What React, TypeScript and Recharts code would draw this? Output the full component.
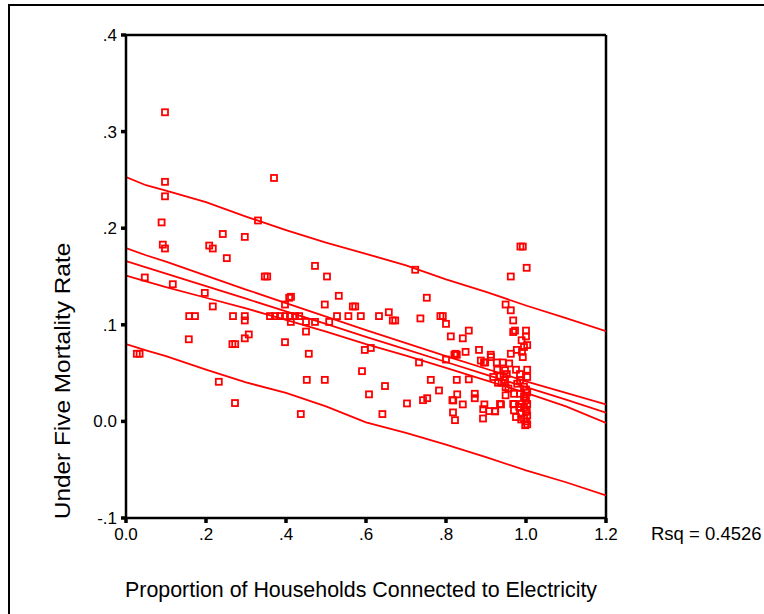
import React from 'react';
import { ComposedChart, Scatter, Line, XAxis, YAxis, ReferenceLine } from 'recharts';

// tick values and their printed labels (SPSS style)
const xTicks = [0, 0.2, 0.4, 0.6, 0.8, 1.0, 1.2];
const xTickLabels = ['0.0', '.2', '.4', '.6', '.8', '1.0', '1.2'];
const yTicks = [-0.1, 0, 0.1, 0.2, 0.3, 0.4];
const yTickLabels = ['-.1', '0.0', '.1', '.2', '.3', '.4'];

// observed points: proportion connected to electricity vs under five mortality
const electricity = [
  0.0975, 0.0975, 0.0975, 0.089, 0.092, 0.0975, 0.37, 0.33, 0.242, 0.297,
  0.208, 0.217, 0.252, 0.4725, 0.5025, 0.347, 0.353, 0.047, 0.117, 0.197,
  0.217, 0.158, 0.1725, 0.2675, 0.297, 0.297, 0.157, 0.266, 0.273, 0.297,
  0.307, 0.027, 0.034, 0.232, 0.2725, 0.437, 0.36, 0.3725, 0.385, 0.3975,
  0.41, 0.4225, 0.433, 0.3975, 0.408, 0.4125, 0.412, 0.3975, 0.45, 0.45,
  0.4725, 0.457, 0.452, 0.497, 0.497, 0.532, 0.508, 0.5275, 0.556, 0.567,
  0.573, 0.587, 0.59, 0.752, 0.723, 0.657, 0.6325, 0.667, 0.673, 0.736,
  0.786, 0.792, 0.80, 0.812, 0.857, 0.842, 0.8825, 0.849, 0.827, 0.821,
  0.80, 0.887, 0.912, 0.898, 0.597, 0.612, 0.7325, 0.762, 0.827, 0.857,
  0.6475, 0.6075, 0.7825, 0.7025, 0.7425, 0.753, 0.816, 0.828, 0.842, 0.872,
  0.872, 0.8175, 0.8225, 0.641, 0.896, 0.893, 0.908, 0.923, 0.8925, 0.9375,
  0.962, 1.0017, 0.986, 0.992, 0.949, 0.962, 0.968, 0.968, 0.9725, 1.0,
  1.0, 0.989, 0.995, 1.003, 0.977, 0.99, 0.992, 0.962, 0.912, 0.895,
  0.927, 0.942, 0.928, 0.9475, 0.952, 0.9475, 0.935, 0.939, 0.975, 0.985,
  1.003, 1.003, 0.978, 0.985, 0.949, 0.949, 0.97, 0.985, 0.97, 0.989,
  0.935, 0.9225, 0.818, 0.824, 0.968, 0.97, 0.975, 0.995, 1.0, 1.003,
  0.995, 1.0, 1.003, 0.995, 1.0, 1.003, 0.995, 1.0, 1.003, 0.998,
  1.002, 0.998, 0.988, 0.983, 0.988, 0.93, 0.944, 0.956, 0.918, 0.958,
];
const mortality = [
  0.320, 0.248, 0.233, 0.206, 0.183, 0.179, 0.252, 0.208, 0.194, 0.191,
  0.182, 0.179, 0.169, 0.161, 0.150, 0.150, 0.150, 0.149, 0.142, 0.133,
  0.119, 0.109, 0.109, 0.109, 0.109, 0.1045, 0.085, 0.080, 0.080, 0.086,
  0.090, 0.070, 0.070, 0.041, 0.019, 0.0076, 0.109, 0.109, 0.109, 0.109,
  0.109, 0.109, 0.109, 0.121, 0.128, 0.129, 0.103, 0.082, 0.103, 0.093,
  0.103, 0.070, 0.043, 0.043, 0.121, 0.130, 0.103, 0.109, 0.109, 0.119,
  0.119, 0.109, 0.052, 0.128, 0.157, 0.113, 0.109, 0.1045, 0.1045, 0.1066,
  0.109, 0.109, 0.101, 0.088, 0.094, 0.086, 0.074, 0.072, 0.069, 0.069,
  0.064, 0.063, 0.069, 0.061, 0.074, 0.076, 0.061, 0.043, 0.043, 0.0435,
  0.0366, 0.028, 0.032, 0.0186, 0.022, 0.024, 0.022, 0.028, 0.0176, 0.0286,
  0.024, 0.0093, 0.0013, 0.0076, 0.0176, 0.0127, 0.0107, 0.0107, 0.003, 0.0176,
  0.150, 0.159, 0.181, 0.181, 0.121, 0.115, 0.1045, 0.0925, 0.094, 0.094,
  0.088, 0.084, 0.077, 0.079, 0.074, 0.072, 0.0666, 0.070, 0.0666, 0.061,
  0.061, 0.061, 0.0535, 0.053, 0.049, 0.043, 0.0466, 0.040, 0.0535, 0.049,
  0.0535, 0.046, 0.039, 0.0425, 0.0355, 0.027, 0.0286, 0.0286, 0.018, 0.018,
  0.018, 0.0103, 0.0217, 0.070, 0.018, 0.0114, 0.0045, 0.036, 0.033, 0.030,
  0.026, 0.022, 0.018, 0.014, 0.010, 0.006, 0.003, 0.000, -0.003, -0.004,
  0.012, 0.024, 0.008, 0.015, 0.002, 0.040, 0.046, 0.034, 0.046, 0.060,
];

const bandX = [0, 0.05, 0.1, 0.2, 0.3, 0.4, 0.5, 0.6, 0.7, 0.8, 0.9, 1.0, 1.1, 1.2];
const upperPred = [0.253, 0.2445, 0.239, 0.227, 0.212, 0.198, 0.185, 0.1735, 0.1615, 0.147, 0.134, 0.120, 0.107, 0.0935];
const upperMean = [0.1795, 0.172, 0.1655, 0.151, 0.1365, 0.1225, 0.1085, 0.0945, 0.081, 0.0675, 0.0545, 0.0415, 0.0295, 0.0175];
const fitLine = [0.166, 0.1595, 0.153, 0.140, 0.127, 0.114, 0.101, 0.0875, 0.0745, 0.0615, 0.0485, 0.0355, 0.0225, 0.009];
const lowerMean = [0.151, 0.145, 0.139, 0.128, 0.117, 0.105, 0.093, 0.080, 0.068, 0.0555, 0.0425, 0.0295, 0.0155, -0.0015];
const lowerPred = [0.080, 0.0735, 0.0675, 0.0535, 0.0404, 0.0295, 0.0155, -0.001, -0.012, -0.024, -0.037, -0.0507, -0.063, -0.0766];

const RED = '#ff0000';
const FONT = '"Liberation Sans", Arial, sans-serif';

const labelFor = (ticks: number[], labels: string[]) => (v: number) => {
  const i = ticks.findIndex((t) => Math.abs(t - v) < 1e-9);
  return i >= 0 ? labels[i] : String(v);
};

const SquareDot = (props: any) => {
  const { cx, cy } = props;
  if (cx == null || cy == null) return null;
  return <rect x={cx - 3} y={cy - 3} width={6} height={6} fill="none" stroke={RED} strokeWidth={1.8} />;
};

export default function App() {
  const lineData = bandX.map((x, i) => ({
    x,
    upPred: upperPred[i],
    upMean: upperMean[i],
    fit: fitLine[i],
    loMean: lowerMean[i],
    loPred: lowerPred[i],
  }));
  const points = electricity.map((x, i) => ({ x, y: mortality[i] }));

  const lineProps = { stroke: RED, strokeWidth: 1.8, dot: false, activeDot: false, isAnimationActive: false, type: 'linear' as const };

  return (
    <div style={{ position: 'absolute', left: 0, top: 0, width: 764, height: 614, background: '#fff', overflow: 'hidden', fontFamily: FONT }}>
      {/* outer chart frame, cut off at right and bottom */}
      <div style={{ position: 'absolute', left: 8, top: 4, width: 800, height: 700, borderLeft: '2px solid #000', borderTop: '2px solid #000' }} />

      <ComposedChart width={764} height={614} data={lineData} margin={{ top: 35, right: 158, bottom: 66, left: 66 }} style={{ position: 'absolute', left: 0, top: 0 }}>
        <XAxis
          dataKey="x"
          type="number"
          domain={[0, 1.2]}
          ticks={xTicks}
          allowDataOverflow
          height={30}
          tickFormatter={labelFor(xTicks, xTickLabels)}
          tick={{ fill: '#000', fontSize: 17, fontFamily: FONT }}
          tickSize={5}
          tickMargin={5}
          axisLine={{ stroke: '#000', strokeWidth: 2.5 }}
          tickLine={{ stroke: '#000', strokeWidth: 3.5 }}
        />
        <YAxis
          dataKey="y"
          type="number"
          domain={[-0.1, 0.4]}
          ticks={yTicks}
          allowDataOverflow
          width={60}
          tickFormatter={labelFor(yTicks, yTickLabels)}
          tick={{ fill: '#000', fontSize: 17, fontFamily: FONT }}
          tickSize={5}
          tickMargin={4}
          axisLine={{ stroke: '#000', strokeWidth: 2.5 }}
          tickLine={{ stroke: '#000', strokeWidth: 3.5 }}
        />
        <ReferenceLine y={0.4} stroke="#000" strokeWidth={2.5} />
        <ReferenceLine x={1.2} stroke="#000" strokeWidth={2.5} />
        <Line dataKey="upPred" {...lineProps} />
        <Line dataKey="upMean" {...lineProps} />
        <Line dataKey="fit" {...lineProps} />
        <Line dataKey="loMean" {...lineProps} />
        <Line dataKey="loPred" {...lineProps} />
        <Scatter data={points} dataKey="y" shape={SquareDot} isAnimationActive={false} />
      </ComposedChart>

      <div style={{ position: 'absolute', left: 651, top: 522, fontSize: 18.5, lineHeight: '24px', color: '#000', whiteSpace: 'nowrap' }}>Rsq = 0.4526</div>
      <div style={{ position: 'absolute', left: 125, top: 577, fontSize: 21.4, lineHeight: '26px', color: '#000', whiteSpace: 'nowrap' }}>
        Proportion of Households Connected to Electricity
      </div>
      <div style={{ position: 'absolute', left: 63, top: 381, width: 0, height: 0 }}>
        <div style={{ position: 'absolute', left: 0, top: 0, transform: 'translate(-50%, -50%) rotate(-90deg) scaleX(1.14)', fontSize: 21.4, lineHeight: '26px', color: '#000', whiteSpace: 'nowrap' }}>
          Under Five Mortality Rate
        </div>
      </div>
    </div>
  );
}
